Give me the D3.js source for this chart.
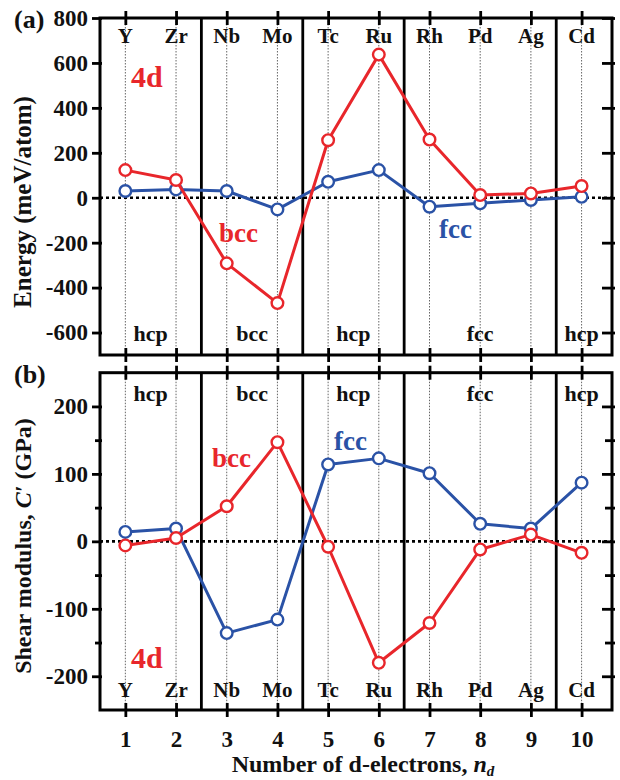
<!DOCTYPE html>
<html>
<head>
<meta charset="utf-8">
<script src="https://cdn.jsdelivr.net/npm/d3@7"></script>
<style>
  html, body { margin: 0; padding: 0; background: #fff; }
  svg { display: block; }
  text { font-family: "Liberation Serif", "Times New Roman", serif; font-weight: bold; }
</style>
</head>
<body>
<svg id="chart" width="620" height="780"></svg>
<script>
// ---------------- data ----------------
const nd = [1, 2, 3, 4, 5, 6, 7, 8, 9, 10];
const elements = ["Y", "Zr", "Nb", "Mo", "Tc", "Ru", "Rh", "Pd", "Ag", "Cd"];
const energyBcc = [123, 79, -292, -469, 256, 637, 259, 12, 19, 52];
const energyFcc = [30, 37, 30, -52, 71, 123, -40, -25, -10, 4];
const shearBcc = [-6, 5, 52, 147, -8, -180, -121, -12, 10, -17];
const shearFcc = [14, 19, -136, -116, 114, 123, 101, 26, 19, 87];
const phaseBounds = [2.5, 4.5, 6.5, 9.5];
const phaseLabels = ["hcp", "bcc", "hcp", "fcc", "hcp"];
const phaseCenters = [1.5, 3.5, 5.5, 8, 10];
const energyTicks = [-600, -400, -200, 0, 200, 400, 600, 800];
const shearTicks = [-200, -100, 0, 100, 200];
const shearMinorTicks = [-150, -50, 50, 150];
const xTicks = nd;

// ---------------- layout ----------------
const RED = "#e8262b", BLUE = "#2a52a6";
const svg = d3.select("#chart");
const x = d3.scaleLinear().domain([0.5, 10.6]).range([100, 612]);
const yTop = d3.scaleLinear().domain([-700, 800]).range([355, 18]);
const yBot = d3.scaleLinear().domain([-250, 250]).range([710, 372.7]);

function panel(y, yTicks, yMinor, bcc, fcc, opts) {
  const g = svg.append("g");
  const [y0, y1] = y.range(); // bottom, top
  // gray dotted guides
  g.selectAll(".guide").data(nd).join("line")
    .attr("x1", d => x(d)).attr("x2", d => x(d))
    .attr("y1", y1).attr("y2", y0)
    .attr("stroke", "#666").attr("stroke-width", 1).attr("stroke-dasharray", "1.5,1.5");
  // phase separators
  g.selectAll(".sep").data(phaseBounds).join("line")
    .attr("x1", d => x(d)).attr("x2", d => x(d))
    .attr("y1", y1).attr("y2", y0)
    .attr("stroke", "#000").attr("stroke-width", 2.8);
  // zero line
  g.append("line").attr("x1", x.range()[0]).attr("x2", x.range()[1])
    .attr("y1", y(0)).attr("y2", y(0))
    .attr("stroke", "#000").attr("stroke-width", 2.6).attr("stroke-dasharray", "3,3");

  // element labels
  g.selectAll(".el").data(elements).join("text")
    .attr("x", (d, i) => x(nd[i])).attr("y", opts.elY)
    .attr("text-anchor", "middle").attr("font-size", 21).attr("fill", "#111")
    .text(d => d);
  // phase labels
  g.selectAll(".ph").data(phaseLabels).join("text")
    .attr("x", (d, i) => x(phaseCenters[i])).attr("y", opts.phY)
    .attr("text-anchor", "middle").attr("font-size", 22).attr("fill", "#111")
    .text(d => d);

  // lines and markers
  const line = d3.line().x((d, i) => x(nd[i])).y(d => y(d));
  [[fcc, BLUE], [bcc, RED]].forEach(([vals, col]) => {
    g.append("path").datum(vals).attr("d", line)
      .attr("fill", "none").attr("stroke", col).attr("stroke-width", 3)
      .attr("stroke-linejoin", "round");
    g.selectAll(null).data(vals).join("circle")
      .attr("cx", (d, i) => x(nd[i])).attr("cy", d => y(d)).attr("r", 5.8)
      .attr("fill", "#fff").attr("stroke", col).attr("stroke-width", 2.4);
  });

  // frame
  g.append("rect").attr("x", x.range()[0]).attr("y", y1)
    .attr("width", x.range()[1] - x.range()[0]).attr("height", y0 - y1)
    .attr("fill", "none").attr("stroke", "#000").attr("stroke-width", 3);

  // axes
  const fmt = d => String(d);
  const left = g.append("g").attr("transform", `translate(${x.range()[0]},0)`)
    .call(d3.axisLeft(y).tickValues(yTicks).tickFormat(fmt).tickSize(8).tickPadding(4));
  left.selectAll(".tick line").attr("x2", -8).attr("x1", 2);
  if (yMinor) {
    g.append("g").attr("transform", `translate(${x.range()[0]},0)`)
      .call(d3.axisLeft(y).tickValues(yMinor).tickFormat("").tickSize(5))
      .selectAll(".tick line").attr("x1", 2);
  }
  const right = g.append("g").attr("transform", `translate(${x.range()[1]},0)`)
    .call(d3.axisLeft(y).tickValues(yTicks).tickFormat("").tickSize(10));
  right.selectAll(".tick line").attr("x1", 3);
  if (yMinor) {
    g.append("g").attr("transform", `translate(${x.range()[1]},0)`)
      .call(d3.axisLeft(y).tickValues(yMinor).tickFormat("").tickSize(7))
      .selectAll(".tick line").attr("x1", 3);
  }
  const top = g.append("g").attr("transform", `translate(0,${y1})`)
    .call(d3.axisTop(x).tickValues(xTicks).tickFormat("").tickSize(7));
  top.selectAll(".tick line").attr("y1", 7);
  const bottom = g.append("g").attr("transform", `translate(0,${y0})`)
    .call(d3.axisBottom(x).tickValues(xTicks).tickFormat(opts.xLabels ? fmt : "").tickSize(7).tickPadding(14));
  bottom.selectAll(".tick line").attr("y1", -7);

  [left, right, top, bottom, g].forEach(a => {
    a.selectAll(".domain").remove();
    a.selectAll(".tick line").attr("stroke", "#000").attr("stroke-width", 2.8);
    a.selectAll(".tick text").attr("fill", "#111").attr("font-size", 23)
      .attr("font-family", "Liberation Serif, Times New Roman, serif").attr("font-weight", "bold");
  });
  return g;
}

panel(yTop, energyTicks, null, energyBcc, energyFcc, { elY: 43, phY: 341, xLabels: false });
panel(yBot, shearTicks, shearMinorTicks, shearBcc, shearFcc, { elY: 697, phY: 401, xLabels: true });

// annotations
function label(txt, xx, yy, size, col, anchor) {
  return svg.append("text").attr("x", xx).attr("y", yy).attr("font-size", size)
    .attr("fill", col).attr("text-anchor", anchor || "start").text(txt);
}
label("(a)", 14, 28, 26, "#111");
label("(b)", 14, 383, 26, "#111");
label("4d", 131, 87, 30, RED);
label("4d", 131, 668, 30, RED);
label("bcc", 219, 242, 27, RED);
label("fcc", 439, 238, 27, BLUE);
label("bcc", 212, 467, 27, RED);
label("fcc", 334, 450, 27, BLUE);

// axis titles
svg.append("text").attr("transform", "translate(31,202) rotate(-90)")
  .attr("text-anchor", "middle").attr("font-size", 25).attr("fill", "#111")
  .text("Energy (meV/atom)");
const st = svg.append("text").attr("transform", "translate(31,546) rotate(-90)")
  .attr("text-anchor", "middle").attr("font-size", 24).attr("fill", "#111");
st.append("tspan").text("Shear modulus, ");
st.append("tspan").attr("font-style", "italic").text("C′");
st.append("tspan").text(" (GPa)");

const xt = svg.append("text").attr("x", 363).attr("y", 772)
  .attr("text-anchor", "middle").attr("font-size", 24).attr("fill", "#111");
xt.append("tspan").text("Number of d-electrons, ");
xt.append("tspan").attr("font-style", "italic").text("n");
xt.append("tspan").attr("font-style", "italic").attr("font-size", 15).attr("dy", 4).text("d");
</script>
</body>
</html>
